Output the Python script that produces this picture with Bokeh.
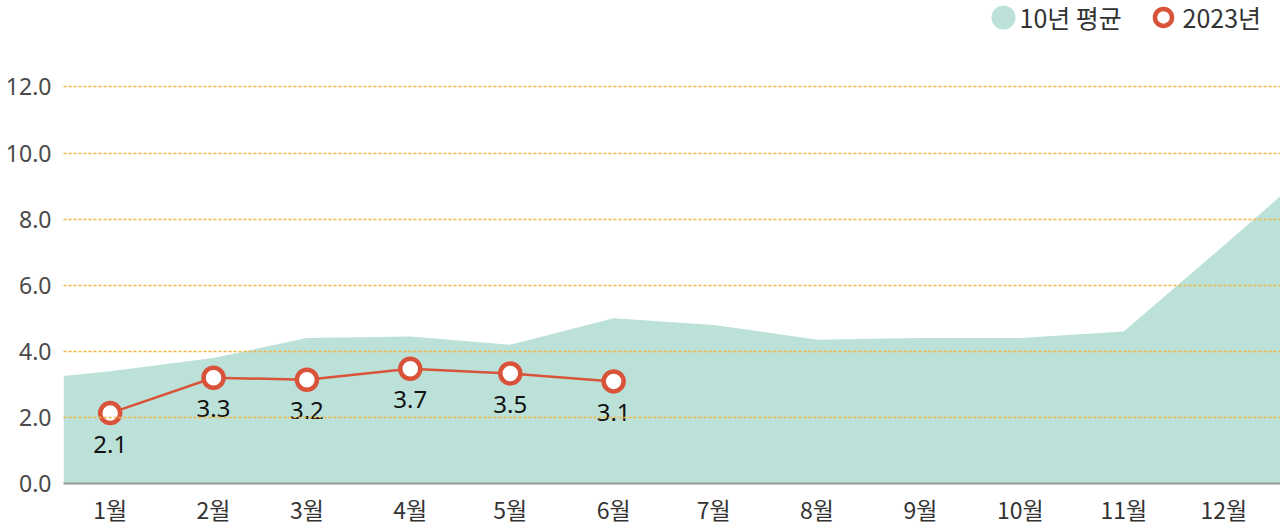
from bokeh.plotting import figure
from bokeh.models import Range1d, FixedTicker, ColumnDataSource, LabelSet, NumeralTickFormatter
from bokeh.core.properties import value
from bokeh.embed import file_html
from bokeh.resources import INLINE

# ---- data ----
months = ["1월", "2월", "3월", "4월", "5월", "6월", "7월", "8월", "9월", "10월", "11월", "12월"]
days_in_month = [31, 28, 31, 30, 31, 30, 31, 31, 30, 31, 30, 31]
avg_label = "10년 평균"
cur_label = "2023년"
# 10-year average (by month), plus values at the year's start / end edges
avg_values = [3.4, 3.8, 4.4, 4.45, 4.2, 5.0, 4.8, 4.35, 4.4, 4.4, 4.6, 7.2]
avg_start = 3.25
avg_end = 8.7
# 2023 values (Jan-Jun) and their printed labels
cur_values = [2.13, 3.2, 3.14, 3.47, 3.33, 3.09]
cur_texts = ["2.1", "3.3", "3.2", "3.7", "3.5", "3.1"]
y_ticks = [0, 2, 4, 6, 8, 10, 12]

# the 15th of each month on a day-of-year axis
mid = []
acc = 0
for d in days_in_month:
    mid.append(acc + 14)
    acc += d
year_len = acc

TEAL = "#bce1d9"
RED = "#d9533a"
GRID = "#f3b640"
FONT = "Noto Sans CJK KR"

W, H = 1280, 528
LEFT = 63
BOTTOM = 42
frame_w = W - LEFT
frame_h = H - BOTTOM
px_per_unit = 33.25
y_max = frame_h / px_per_unit

p = figure(width=W, height=H, output_backend="svg", toolbar_location=None,
           x_range=Range1d(0, year_len), y_range=Range1d(0, y_max),
           min_border_left=LEFT, min_border_right=0, min_border_top=0,
           min_border_bottom=BOTTOM)
p.outline_line_color = None
p.background_fill_color = "white"

# area: 10-year average
ax = [0] + mid + [year_len]
ay = [avg_start] + avg_values + [avg_end]
p.varea(x=ax, y1=[0] * len(ax), y2=ay, fill_color=TEAL)

# 2023 line + markers
src = ColumnDataSource(dict(x=mid[:len(cur_values)], y=cur_values, t=cur_texts))
p.line("x", "y", source=src, line_color=RED, line_width=2.5)
p.scatter("x", "y", source=src, size=20, fill_color="white", line_color=RED, line_width=4.5)
labels = LabelSet(x="x", y="y", text="t", source=src, y_offset=-31,
                  text_align="center", text_baseline="middle",
                  text_font=value("Noto Sans"), text_font_size="24px", text_color="#111111")
p.add_layout(labels)

# axes
p.yaxis.ticker = FixedTicker(ticks=y_ticks)
p.yaxis.formatter = NumeralTickFormatter(format="0.0")
p.yaxis.axis_line_color = None
p.yaxis.major_tick_line_color = None
p.yaxis.minor_tick_line_color = None
p.yaxis.major_tick_out = 0
p.yaxis.major_tick_in = 0
p.yaxis.minor_tick_out = 0
p.yaxis.major_label_text_font = "Noto Sans"
p.yaxis.major_label_text_font_size = "23px"
p.yaxis.major_label_text_color = "#4a4a4a"
p.yaxis.major_label_standoff = 12

p.xaxis.ticker = FixedTicker(ticks=mid)
p.xaxis.major_label_overrides = {m: lab for m, lab in zip(mid, months)}
p.xaxis.axis_line_color = "#999999"
p.xaxis.axis_line_width = 2
p.xaxis.major_tick_line_color = None
p.xaxis.minor_tick_line_color = None
p.xaxis.major_tick_out = 0
p.xaxis.major_tick_in = 0
p.xaxis.minor_tick_out = 0
p.xaxis.major_label_text_font = FONT
p.xaxis.major_label_text_font_size = "23px"
p.xaxis.major_label_text_color = "#333333"
p.xaxis.major_label_standoff = 8

p.xgrid.grid_line_color = None
p.ygrid.ticker = FixedTicker(ticks=[t for t in y_ticks if t > 0])
p.ygrid.grid_line_color = GRID
p.ygrid.grid_line_dash = "3 2"
p.ygrid.grid_line_width = 1.3
p.ygrid.level = "overlay"

# manual legend (positions derived from the frame's pixel scale)
def dx(px):
    return (px - LEFT) / frame_w * year_len

def dy(py):
    return (frame_h - py) / px_per_unit

ly = dy(17)
p.scatter(x=[dx(1003)], y=[ly], size=24, fill_color=TEAL, line_color=None)
p.scatter(x=[dx(1163)], y=[ly], size=17, fill_color="white", line_color=RED, line_width=4.5)
p.text(x=[dx(1019), dx(1182)], y=[ly, ly], text=[avg_label, cur_label],
       text_font=value(FONT), text_font_size="25px", text_color="#333333",
       text_align="left", text_baseline="middle")

open("out.html", "w").write(file_html(p, INLINE))
